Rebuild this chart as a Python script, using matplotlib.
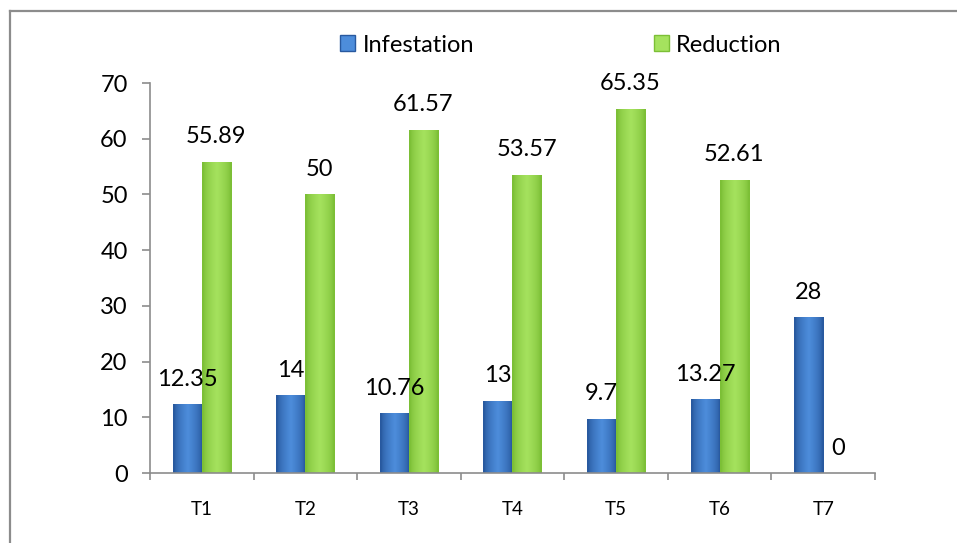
import numpy as np
import matplotlib.pyplot as plt
from matplotlib.colors import to_rgb
from matplotlib.patches import Patch
from matplotlib.lines import Line2D

plt.rcParams['font.family'] = ['Lato', 'DejaVu Sans']

treatments = ['T1', 'T2', 'T3', 'T4', 'T5', 'T6', 'T7']
infestation = [12.35, 14, 10.76, 13, 9.7, 13.27, 28]
reduction = [55.89, 50, 61.57, 53.57, 65.35, 52.61, 0]
infest_labels = ['12.35', '14', '10.76', '13', '9.7', '13.27', '28']
reduct_labels = ['55.89', '50', '61.57', '53.57', '65.35', '52.61', '0']

blue_edge, blue_mid = '#28599f', '#4d8ddb'
green_edge, green_mid = '#7cbf36', '#a5e25e'

fig = plt.figure(figsize=(9.57, 5.43), dpi=100)
ax = fig.add_axes([0.1567, 0.1289, 0.7576, 0.7182])

# outer chart frame (top and left visible)
fig.add_artist(Line2D([0.0104, 0.0104], [0, 0.9797], color='#8c8c8c', lw=1.6))
fig.add_artist(Line2D([0.0104, 1.0], [0.9797, 0.9797], color='#8c8c8c', lw=1.6))

x = np.arange(len(treatments))
w = 0.28


def shade_bars(bars, c_edge, c_mid):
    # horizontal gradient: darker at the sides, lighter in the middle
    ce = np.array(to_rgb(c_edge))
    cm = np.array(to_rgb(c_mid))
    t = np.linspace(0, 1, 60)
    k = np.clip(1 - np.abs(t - 0.5) * 2.2, 0, 1) ** 0.6
    cols = ce[None, :] + k[:, None] * (cm - ce)[None, :]
    for b in bars:
        x0, y0 = b.get_x(), b.get_y()
        bw, bh = b.get_width(), b.get_height()
        if bh <= 0:
            continue
        im = ax.imshow(cols[None, :, :], extent=[x0, x0 + bw, y0, y0 + bh],
                       aspect='auto', zorder=2.5, interpolation='bilinear')
        im.set_clip_path(b)


b1 = ax.bar(x - w / 2, infestation, w, color=blue_edge, zorder=2, label='Infestation')
b2 = ax.bar(x + w / 2, reduction, w, color=green_edge, zorder=2, label='Reduction')
shade_bars(b1, blue_edge, blue_mid)
shade_bars(b2, green_edge, green_mid)

for xi, v, s in zip(x, infestation, infest_labels):
    ax.annotate(s, (xi - w / 2, v), xytext=(0, 18), textcoords='offset points',
                ha='center', va='center', fontsize=17, color='black')
for xi, v, s in zip(x, reduction, reduct_labels):
    ax.annotate(s, (xi + w / 2, v), xytext=(0, 18), textcoords='offset points',
                ha='center', va='center', fontsize=17, color='black')

ax.set_xlim(-0.5, len(treatments) - 0.5)
ax.set_ylim(0, 70)
ax.set_yticks(range(0, 71, 10))
ax.set_xticks(x)
ax.set_xticklabels(treatments, fontsize=13.5)
ax.set_xticks(np.arange(-0.5, len(treatments), 1), minor=True)
ax.tick_params(axis='x', which='major', length=0, pad=20)
ax.tick_params(axis='x', which='minor', length=5, color='#8c8c8c', width=1.2)
ax.tick_params(axis='y', length=6, color='#8c8c8c', width=1.2, labelsize=17, pad=10)

for side in ['top', 'right']:
    ax.spines[side].set_visible(False)
for side in ['left', 'bottom']:
    ax.spines[side].set_color('#8c8c8c')
    ax.spines[side].set_linewidth(1.2)

handles = [Patch(facecolor=blue_mid, edgecolor=blue_edge), Patch(facecolor=green_mid, edgecolor=green_edge)]
fig.legend(handles, ['Infestation', 'Reduction'], loc='center', bbox_to_anchor=(0.586, 0.917),
           ncol=2, frameon=False, fontsize=17, handlelength=0.65, handleheight=0.65,
           handletextpad=0.3, columnspacing=7.6)

fig.savefig('out.png', dpi=100)
